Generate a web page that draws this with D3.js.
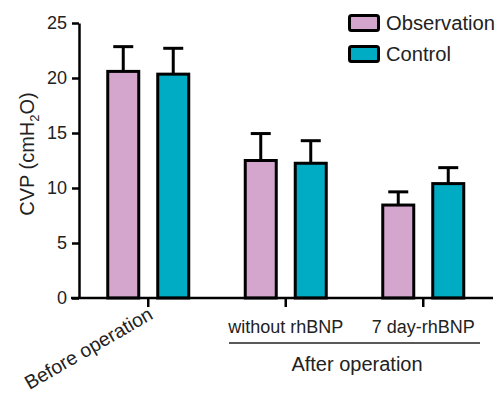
<!DOCTYPE html>
<html lang="en">
<head>
<meta charset="UTF-8">
<title>CVP bar chart</title>
<script src="https://cdnjs.cloudflare.com/ajax/libs/d3/7.8.5/d3.min.js"></script>
<style>
	body { margin: 0; background: #fff; }
	svg { display: block; font-family: "Liberation Sans", Arial, sans-serif; }
	.tick text { fill: #222; }
</style>
</head>
<body>
<div id="chart"></div>
<script>
	// data
	const groups = ["Before operation", "without rhBNP", "7 day-rhBNP"];
	const series = ["Observation", "Control"];
	const means = [[20.6, 12.5, 8.45], [20.35, 12.25, 10.4]];
	const errs = [[2.25, 2.45, 1.2], [2.35, 2.05, 1.45]];
	const yTicks = [0, 5, 10, 15, 20, 25];
	const colors = ["#d4a5cd", "#00abc4"];

	const W = 503, H = 396;
	const svg = d3.select("#chart").append("svg")
		.attr("width", W)
		.attr("height", H);

	const y = d3.scaleLinear().domain([0, 25]).range([298, 23]);
	const x = d3.scaleBand().domain(groups).range([79.5, 492]).padding(0);
	const xs = d3.scalePoint().domain(series).range([-25, 25]);
	const barW = 31;

	// y axis
	const yAxis = svg.append("g")
		.attr("transform", "translate(79,0)")
		.call(d3.axisLeft(y).tickValues(yTicks).tickSize(7).tickPadding(5).tickSizeOuter(0));
	yAxis.select(".domain").attr("stroke", "#000").attr("stroke-width", 2.5);
	yAxis.selectAll(".tick line").attr("stroke", "#000").attr("stroke-width", 2.5);
	yAxis.selectAll(".tick text").attr("font-size", 18).attr("font-family", "Liberation Sans, Arial, sans-serif");

	// x axis ticks
	const xAxis = svg.append("g")
		.attr("transform", "translate(0,298)")
		.call(d3.axisBottom(x).tickSize(9).tickSizeOuter(0).tickFormat(""));
	xAxis.select(".domain").remove();
	xAxis.selectAll(".tick line").attr("stroke", "#000").attr("stroke-width", 2.5);

	// bars
	series.forEach((s, si) => {
		const g = svg.append("g");
		groups.forEach((grp, gi) => {
			const cx = x(grp) + x.bandwidth() / 2 + xs(s);
			const top = y(means[si][gi]);
			const cap = y(means[si][gi] + errs[si][gi]);
			g.append("line")
				.attr("x1", cx).attr("x2", cx)
				.attr("y1", top).attr("y2", cap)
				.attr("stroke", "#000").attr("stroke-width", 3);
			g.append("line")
				.attr("x1", cx - 10).attr("x2", cx + 10)
				.attr("y1", cap).attr("y2", cap)
				.attr("stroke", "#000").attr("stroke-width", 3);
			g.append("rect")
				.attr("x", cx - barW / 2)
				.attr("y", top)
				.attr("width", barW)
				.attr("height", y(0) - top)
				.attr("fill", colors[si])
				.attr("stroke", "#000")
				.attr("stroke-width", 3);
		});
	});

	// x axis line, drawn over bar bottoms
	svg.append("line")
		.attr("x1", 71).attr("x2", 493)
		.attr("y1", 298).attr("y2", 298)
		.attr("stroke", "#000").attr("stroke-width", 2.5);

	// category labels
	const c0 = x(groups[0]) + x.bandwidth() / 2;
	svg.append("text")
		.attr("transform", `translate(${c0 + 6},${318}) rotate(-30)`)
		.attr("text-anchor", "end")
		.attr("font-size", 19.5)
		.attr("fill", "#222")
		.text(groups[0]);

	groups.slice(1).forEach(grp => {
		svg.append("text")
			.attr("x", x(grp) + x.bandwidth() / 2)
			.attr("y", 333)
			.attr("text-anchor", "middle")
			.attr("font-size", 18)
			.attr("fill", "#222")
			.text(grp);
	});

	svg.append("line")
		.attr("x1", 229).attr("x2", 480)
		.attr("y1", 343).attr("y2", 343)
		.attr("stroke", "#222").attr("stroke-width", 1.5);
	svg.append("text")
		.attr("x", 357)
		.attr("y", 371)
		.attr("text-anchor", "middle")
		.attr("font-size", 20)
		.attr("fill", "#222")
		.text("After operation");

	// y axis title
	const yt = svg.append("text")
		.attr("transform", "translate(34,154) rotate(-90)")
		.attr("text-anchor", "middle")
		.attr("font-size", 20)
		.attr("fill", "#222");
	yt.append("tspan").text("CVP (cmH");
	yt.append("tspan").attr("font-size", 13).attr("dy", 5).text("2");
	yt.append("tspan").attr("dy", -5).text("O)");

	// legend
	const legW = [109, 65];
	const leg = svg.append("g");
	series.forEach((s, i) => {
		leg.append("rect")
			.attr("x", 349.5).attr("y", 15.5 + i * 31)
			.attr("width", 29).attr("height", 15)
			.attr("fill", colors[i])
			.attr("stroke", "#000").attr("stroke-width", 3)
			.attr("rx", 2);
		leg.append("text")
			.attr("x", 386).attr("y", 30 + i * 31)
			.attr("font-size", 20)
			.attr("textLength", legW[i])
			.attr("lengthAdjust", "spacingAndGlyphs")
			.attr("fill", "#222")
			.text(s);
	});
</script>
</body>
</html>
